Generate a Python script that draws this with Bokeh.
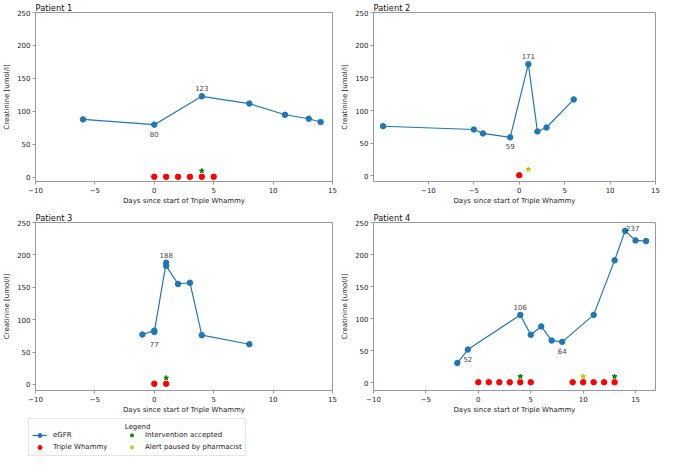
import numpy as np
from bokeh.plotting import figure
from bokeh.layouts import column, row
from bokeh.models import (ColumnDataSource, FixedTicker, CustomJSTickFormatter, Legend,
                          LegendItem, Label, Range1d)
from bokeh.embed import file_html
from bokeh.resources import INLINE
from bokeh.core.properties import value

# ---------------- data ----------------
x_ticks = [-10, -5, 0, 5, 10, 15]
y_ticks = [0, 50, 100, 150, 200, 250]
tw_level = 1          # y value of Triple Whammy markers
event_level = 10      # y value of intervention / alert markers

p1_days = [-6, 0, 4, 8, 11, 13, 14]
p1_creat = [88, 80, 123, 112, 95, 89, 84]
p1_tw_days = [0, 1, 2, 3, 4, 5]
p1_accepted_days = [4]
p1_paused_days = []
p1_label_days = [0, 4]
p1_label_values = [80, 123]

p2_days = [-15, -5, -4, -1, 1, 2, 3, 6]
p2_creat = [76, 71, 65, 59, 171, 68, 74, 117]
p2_tw_days = [0]
p2_accepted_days = []
p2_paused_days = [1]
p2_label_days = [-1, 1]
p2_label_values = [59, 171]

p3_days = [-1, 0, 0, 1, 1, 2, 3, 4, 8]
p3_creat = [77, 83, 81, 188, 183, 155, 157, 76, 62]
p3_tw_days = [0, 1]
p3_accepted_days = [1]
p3_paused_days = []
p3_label_days = [0, 1]
p3_label_values = [77, 188]

p4_days = [-2, -1, 4, 5, 6, 7, 8, 11, 13, 14, 15, 16]
p4_creat = [31, 52, 106, 75, 88, 66, 64, 106, 191, 237, 222, 221]
p4_tw_days = [0, 1, 2, 3, 4, 5, 9, 10, 11, 12, 13]
p4_accepted_days = [4, 13]
p4_paused_days = [10]
p4_label_days = [-1, 4, 8, 14]
p4_label_values = [52, 106, 64, 237]

# ---------------- styles ----------------
FONT = "DejaVu Sans"
BLUE = "#1f77b4"
RED = "#ff0000"
GREEN = "#008000"
YELLOW = "#c4c400"
FRAME = "#999999"
TXT = "#222222"
ABOVE = (0, -8, "center")
BELOW = (0, 9, "center")
RIGHT_UP = (1, -3, "left")
p1_label_style = [BELOW, ABOVE]
p2_label_style = [BELOW, ABOVE]
p3_label_style = [BELOW, ABOVE]
p4_label_style = [BELOW, ABOVE, BELOW, RIGHT_UP]

minus_fmt = CustomJSTickFormatter(code="return tick < 0 ? '\\u2212' + Math.abs(tick) : String(tick);")


def panel(title, days, creat, tw, acc, paused, lab_x, lab_y, lab_style,
          xr, yr, width, height, mbl, mbr, mbt, mbb):
    p = figure(width=width, height=height, x_range=Range1d(*xr), y_range=Range1d(*yr),
               output_backend="svg", toolbar_location=None,
               min_border_left=mbl, min_border_right=mbr,
               min_border_top=mbt, min_border_bottom=mbb)
    p.title.text = title
    p.title.align = "left"
    p.title.text_font = FONT
    p.title.text_font_size = "8.3px"
    p.title.text_font_style = "normal"
    p.title.text_color = "#111111"
    p.title.standoff = 0
    p.title.offset = 0
    p.grid.visible = False
    p.outline_line_color = FRAME
    p.outline_line_width = 1
    p.background_fill_color = "white"
    p.border_fill_color = "white"
    for ax in (p.xaxis[0], p.yaxis[0]):
        ax.axis_line_color = None
        ax.major_tick_line_color = FRAME
        ax.major_tick_out = 3
        ax.major_tick_in = 0
        ax.minor_tick_line_color = None
        ax.major_label_standoff = 2
        ax.major_label_text_font = FONT
        ax.major_label_text_font_size = "7px"
        ax.major_label_text_color = TXT
        ax.axis_label_text_font = FONT
        ax.axis_label_text_font_size = "7px"
        ax.axis_label_text_font_style = "normal"
        ax.axis_label_text_color = TXT
    p.xaxis.axis_label_standoff = 1
    p.yaxis.axis_label_standoff = 3
    p.xaxis.ticker = FixedTicker(ticks=x_ticks)
    p.yaxis.ticker = FixedTicker(ticks=y_ticks)
    p.xaxis.formatter = minus_fmt
    p.xaxis.axis_label = "Days since start of Triple Whammy"
    p.yaxis.axis_label = "Creatinine [umol/l]"

    src = ColumnDataSource(dict(x=days, y=creat))
    p.line("x", "y", source=src, line_color=BLUE, line_width=1.2)
    p.scatter("x", "y", source=src, marker="circle", size=5.5, color=BLUE)

    p.scatter(x=tw, y=[tw_level] * len(tw), marker="circle", size=5.5, color=RED)
    if acc:
        p.scatter(x=acc, y=[event_level] * len(acc), marker="star", size=5, color=GREEN)
    if paused:
        p.scatter(x=paused, y=[event_level] * len(paused), marker="star", size=5, color=YELLOW)

    lsrc = ColumnDataSource(dict(x=lab_x, y=lab_y, text=[str(v) for v in lab_y],
                                 xo=[s[0] for s in lab_style], yo=[s[1] for s in lab_style],
                                 al=[s[2] for s in lab_style]))
    p.text("x", "y", text="text", source=lsrc, x_offset="xo", y_offset="yo", text_align="al",
           text_baseline="middle", text_font=value(FONT), text_font_size="7px",
           text_color="#444444")
    return p


# left column: frame 30..332 ; right column: frame 368..655
p1 = panel("Patient 1", p1_days, p1_creat, p1_tw_days, p1_accepted_days, p1_paused_days,
           p1_label_days, p1_label_values, p1_label_style, (-10, 15), (-6.15, 250),
           338, 210, 30, 6, 12, 29)
p2 = panel("Patient 2", p2_days, p2_creat, p2_tw_days, p2_accepted_days, p2_paused_days,
           p2_label_days, p2_label_values, p2_label_style, (-16.05, 15), (-8.55, 250),
           322, 210, 30, 5, 12, 29)
p3 = panel("Patient 3", p3_days, p3_creat, p3_tw_days, p3_accepted_days, p3_paused_days,
           p3_label_days, p3_label_values, p3_label_style, (-10, 15), (-9.4, 250),
           338, 206, 30, 6, 12, 25)
p4 = panel("Patient 4", p4_days, p4_creat, p4_tw_days, p4_accepted_days, p4_paused_days,
           p4_label_days, p4_label_values, p4_label_style, (-10, 16.9), (-11.85, 250),
           322, 206, 30, 5, 12, 25)

# ---------------- legend ----------------
LEG_W, LEG_H = 660, 41
leg = figure(width=LEG_W, height=LEG_H, x_range=Range1d(0, LEG_W), y_range=Range1d(0, LEG_H),
             output_backend="svg", toolbar_location=None, min_border=0)
leg.axis.visible = False
leg.grid.visible = False
leg.outline_line_color = None
leg.border_fill_color = "white"
leg.background_fill_color = "white"
empty = lambda: ColumnDataSource(dict(x=np.array([np.nan]), y=np.array([np.nan])))
r_line = leg.line("x", "y", source=empty(), line_color=BLUE, line_width=1.2)
r_dot = leg.scatter("x", "y", source=empty(), marker="circle", size=5.5, color=BLUE)
r_tw = leg.scatter("x", "y", source=empty(), marker="circle", size=5.5, color=RED)
r_acc = leg.scatter("x", "y", source=empty(), marker="star", size=5, color=GREEN)
r_pause = leg.scatter("x", "y", source=empty(), marker="star", size=5, color=YELLOW)
legend = Legend(items=[LegendItem(label="eGFR", renderers=[r_line, r_dot]),
                       LegendItem(label="Triple Whammy", renderers=[r_tw]),
                       LegendItem(label="Intervention accepted", renderers=[r_acc]),
                       LegendItem(label="Alert paused by pharmacist", renderers=[r_pause])],
                ncols=2, location=(28, 1), title=" ", title_text_font_size="7px",
                title_standoff=1, label_text_font=FONT, label_text_font_size="7px",
                label_text_color=TXT, glyph_width=15, glyph_height=10, label_height=10,
                label_width=69, label_standoff=6, spacing=2, padding=3, margin=0,
                border_line_color="#cccccc", background_fill_alpha=0)
leg.add_layout(Label(x=137, y=31, text="Legend", text_align="center", text_baseline="middle",
                     text_font=FONT, text_font_size="7px", text_color=TXT))
leg.add_layout(legend, "center")

layout = column(row(p1, p2), row(p3, p4), leg)
open("out.html", "w").write(file_html(layout, INLINE))
